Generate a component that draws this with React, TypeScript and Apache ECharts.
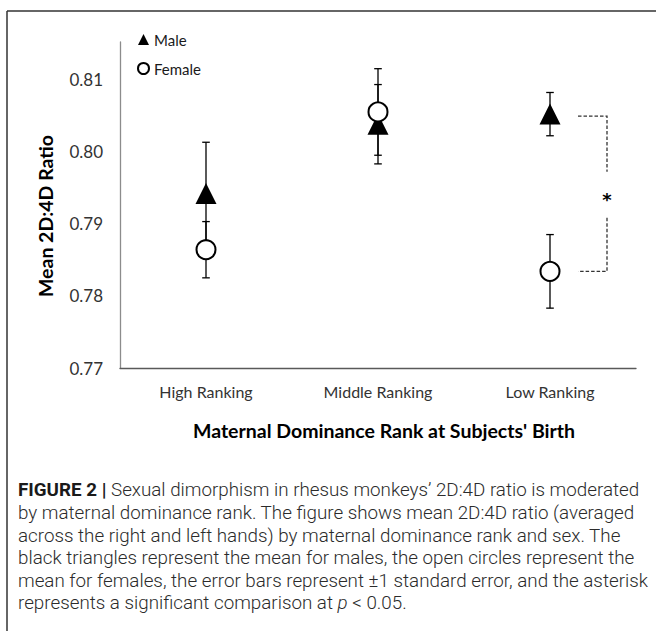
import React, { useEffect, useRef } from "react";
import * as echarts from "echarts";

const categories = ["High Ranking", "Middle Ranking", "Low Ranking"];
const maleMean = [0.7942, 0.8038, 0.8052];
const maleSE = [0.0071, 0.0055, 0.003];
const femaleMean = [0.7864, 0.8055, 0.7834];
const femaleSE = [0.0039, 0.006, 0.0051];
const yTicks = [0.77, 0.78, 0.79, 0.8, 0.81];

const FONT = "Lato, 'Open Sans', sans-serif";
const CAP_FONT = "Roboto, 'Liberation Sans', sans-serif";

const captionText =
  "{b|FIGURE 2 |} Sexual dimorphism in rhesus monkeys\u2019 2D:4D ratio is moderated\n" +
  "by maternal dominance rank. The figure shows mean 2D:4D ratio (averaged\n" +
  "across the right and left hands) by maternal dominance rank and sex. The\n" +
  "black triangles represent the mean for males, the open circles represent the\n" +
  "mean for females, the error bars represent \u00b11 standard error, and the asterisk\n" +
  "represents a significant comparison at {i|p} < 0.05.";

export default function App() {
  const ref = useRef<HTMLDivElement>(null);
  useEffect(() => {
    if (!ref.current) return;
    const chart = echarts.init(ref.current, undefined, { renderer: "svg" });
    const errRender = (params: any, api: any) => {
      const lo = api.coord([api.value(0), api.value(1)]);
      const hi = api.coord([api.value(0), api.value(2)]);
      const style = { stroke: "#000", lineWidth: 1.3 };
      const cw = 3.8;
      return {
        type: "group",
        children: [
          { type: "line", shape: { x1: lo[0], y1: lo[1], x2: hi[0], y2: hi[1] }, style },
          { type: "line", shape: { x1: lo[0] - cw, y1: lo[1], x2: lo[0] + cw, y2: lo[1] }, style },
          { type: "line", shape: { x1: hi[0] - cw, y1: hi[1], x2: hi[0] + cw, y2: hi[1] }, style },
        ],
      };
    };
    const maleErr = categories.map((c, i) => [c, maleMean[i] - maleSE[i], maleMean[i] + maleSE[i]]);
    const femaleErr = categories.map((c, i) => [c, femaleMean[i] - femaleSE[i], femaleMean[i] + femaleSE[i]]);

    chart.setOption({
      animation: false,
      backgroundColor: "#fff",
      grid: { left: 120, right: 20, top: 42, bottom: 263, containLabel: false },
      legend: {
        data: ["Male", "Female"],
        orient: "vertical",
        left: 132,
        top: 27,
        itemWidth: 11,
        itemHeight: 11,
        itemGap: 14,
        textStyle: { fontFamily: FONT, fontSize: 15, color: "#1a1a1a" },
      },
      xAxis: {
        type: "category",
        data: categories,
        boundaryGap: true,
        axisLine: { lineStyle: { color: "#595959", width: 1.3 } },
        axisTick: { show: false },
        axisLabel: { fontFamily: FONT, fontSize: 16, color: "#333", margin: 15 },
      },
      yAxis: {
        type: "value",
        min: 0.77,
        max: 0.8152,
        interval: 0.01,
        axisLine: { show: true, lineStyle: { color: "#8c8c8c", width: 1.3 } },
        axisTick: { show: false },
        splitLine: { show: false },
        axisLabel: {
          fontFamily: FONT,
          fontSize: 17,
          color: "#333",
          margin: 17,
          formatter: (v: number) => {
            const hit = yTicks.find((t) => Math.abs(t - v) < 1e-6);
            return hit === undefined ? "" : hit.toFixed(2);
          },
        },
      },
      series: [
        {
          type: "custom",
          name: "maleErr",
          renderItem: errRender,
          data: maleErr,
          encode: { x: 0, y: [1, 2] },
          z: 1,
          silent: true,
        },
        {
          type: "custom",
          name: "femaleErr",
          renderItem: errRender,
          data: femaleErr,
          encode: { x: 0, y: [1, 2] },
          z: 1,
          silent: true,
        },
        {
          type: "scatter",
          name: "Male",
          symbol: "triangle",
          symbolSize: 21,
          itemStyle: { color: "#000", opacity: 1 },
          data: categories.map((c, i) => [c, maleMean[i]]),
          z: 2,
        },
        {
          type: "scatter",
          name: "Female",
          symbol: "circle",
          symbolSize: 19,
          itemStyle: { color: "#fff", borderColor: "#000", borderWidth: 2, opacity: 1 },
          data: categories.map((c, i) => [c, femaleMean[i]]),
          z: 3,
        },
      ],
    });

    const pm = chart.convertToPixel({ xAxisIndex: 0, yAxisIndex: 0 }, [categories[2], maleMean[2]]) as number[];
    const pf = chart.convertToPixel({ xAxisIndex: 0, yAxisIndex: 0 }, [categories[2], femaleMean[2]]) as number[];
    const bx0 = pm[0] + 28;
    const bx1 = pm[0] + 57;
    const ty = pm[1] + 2;
    const by = pf[1];
    const midY = (ty + by) / 2;
    const dash = { stroke: "#333", lineWidth: 1.3, lineDash: [3.5, 2], fill: null };

    chart.setOption({
      graphic: [
        { type: "line", shape: { x1: 7, y1: 11, x2: 656, y2: 11 }, style: { stroke: "#333", lineWidth: 1.5 } },
        { type: "line", shape: { x1: 7, y1: 11, x2: 7, y2: 631 }, style: { stroke: "#333", lineWidth: 1.5 } },
        { type: "polyline", shape: { points: [[bx0, ty], [bx1, ty], [bx1, midY - 22]] }, style: dash },
        { type: "polyline", shape: { points: [[bx1, midY + 24], [bx1, by], [bx0, by]] }, style: dash },
        {
          type: "text",
          x: bx1,
          y: midY + 6,
          style: { text: "*", fontFamily: "'DejaVu Sans'", fontWeight: "bold", fontSize: 18, fill: "#000", align: "center", verticalAlign: "middle" },
        },
        {
          type: "text",
          x: 45,
          y: 216,
          rotation: Math.PI / 2,
          style: { text: "Mean 2D:4D Ratio", fontFamily: FONT, fontWeight: "bold", fontSize: 19.5, fill: "#000", align: "center", verticalAlign: "middle" },
        },
        {
          type: "text",
          x: 384,
          y: 430,
          style: { text: "Maternal Dominance Rank at Subjects' Birth", fontFamily: FONT, fontWeight: "bold", fontSize: 19.5, fill: "#000", align: "center", verticalAlign: "middle" },
        },
        {
          type: "text",
          x: 18,
          y: 479,
          style: {
            text: captionText,
            fontFamily: CAP_FONT,
            fontWeight: 300,
            fontSize: 18.8,
            lineHeight: 22.6,
            fill: "#2b2b2b",
            align: "left",
            verticalAlign: "top",
            rich: {
              b: { fontFamily: CAP_FONT, fontWeight: "bold", fontSize: 18.8, lineHeight: 22.6, fill: "#1a1a1a" },
              i: { fontFamily: CAP_FONT, fontStyle: "italic", fontWeight: 300, fontSize: 18.8, lineHeight: 22.6, fill: "#2b2b2b" },
            },
          },
        },
      ],
    });

    return () => chart.dispose();
  }, []);
  return (
    <div
      ref={ref}
      style={{ position: "fixed", left: 0, top: 0, width: 656, height: 631, background: "#fff" }}
    />
  );
}
